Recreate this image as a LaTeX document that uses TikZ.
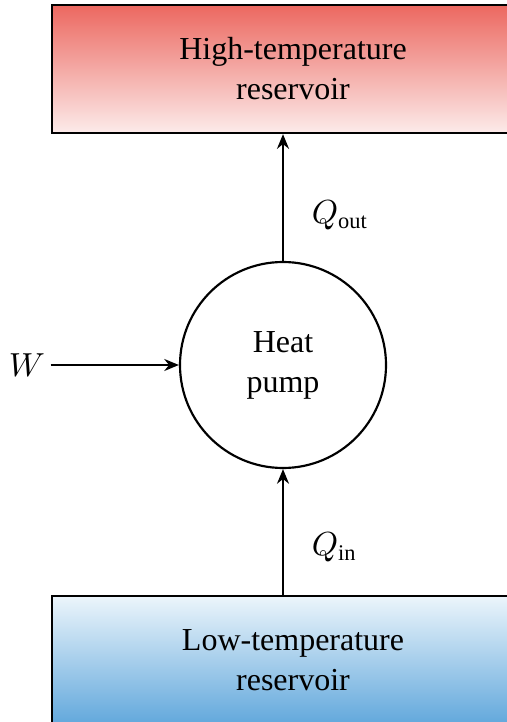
\documentclass[tikz,border=0pt]{standalone}
\usepackage{fontspec}
\setmainfont{Liberation Serif}
\usetikzlibrary{arrows.meta,positioning}
\definecolor{hotred}{RGB}{236,104,96}
\definecolor{hotpale}{RGB}{252,235,234}
\definecolor{coldblue}{RGB}{98,168,220}
\definecolor{coldpale}{RGB}{236,245,251}

\begin{document}
\begin{tikzpicture}[x=0.3pt, y=-0.3pt,
  every node/.style={font=\fontsize{9.6}{12}\selectfont},
  reservoir/.style={draw, line width=0.7pt, minimum width=144.6pt,
    minimum height=38.4pt, align=center},
  flow/.style={-{Stealth[length=4.4pt,width=3.6pt]}, line width=0.65pt}]
  \useasboundingbox (0,0) rectangle (507,722);
  \clip (0,0) rectangle (507,722);
  % --- reservoirs ---
  \node[reservoir, top color=hotred, bottom color=hotpale] (hot)
    at (293,69) {High-temperature\\reservoir};
  \node[reservoir, top color=coldpale, bottom color=coldblue] (cold)
    at (293,660) {Low-temperature\\reservoir};
  % --- heat pump ---
  \node[draw, circle, minimum size=61.8pt, inner sep=0pt, line width=0.65pt,
    align=center] (pump) at (283,365) {Heat\\pump};
  % --- work input ---
  \node[inner sep=1.5pt] (work) at (27,365) {$W$};
  \draw[flow] (work) -- (pump);
  % --- heat flows ---
  \draw[flow] (pump.north) -- (pump.north |- hot.south)
    node[right, pos=0.36, xshift=5pt] {$Q_{\mathrm{out}}$};
  \draw[flow] (pump.south |- cold.north) -- (pump.south)
    node[right, pos=0.38, xshift=5pt] {$Q_{\mathrm{in}}$};
\end{tikzpicture}
\end{document}
